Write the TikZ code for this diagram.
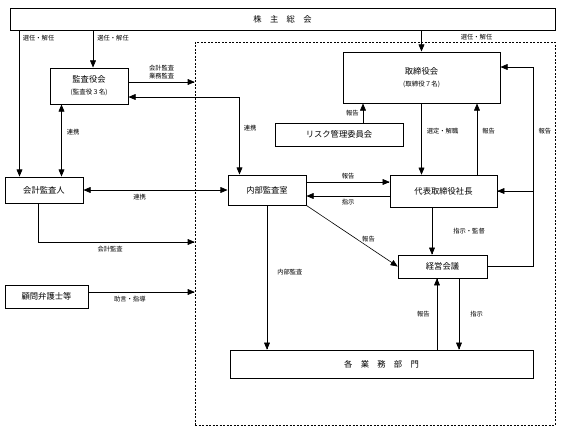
\documentclass[tikz,border=0pt]{standalone}
\usepackage{fontspec}
\setmainfont{Noto Sans CJK JP}
\usetikzlibrary{arrows,positioning}

\begin{document}
\begin{tikzpicture}[x=1pt,y=-1pt,>=triangle 45,line width=0.6pt,
  box/.style={draw,inner sep=1pt,align=center,font=\fontsize{8.3}{10}\selectfont},
  lbl/.style={inner sep=1pt,font=\fontsize{6.3}{7.5}\selectfont,align=center}]
\useasboundingbox (0,0) rectangle (570,431);
\node[draw,dashed,line width=0.5pt,dash pattern=on 2pt off 1.5pt,minimum width=360pt,minimum height=383pt] (group) at (375,233.5) {};
\node[box,line width=1pt,minimum width=545pt,minimum height=22pt] (gm) at (282.5,19) {株\hspace{1em}主\hspace{1em}総\hspace{1em}会};
\node[box,line width=1pt,minimum width=157pt,minimum height=51pt] (tori) at (421.5,77.5) {取締役会\\[2pt]{\fontsize{6.5}{7.5}\selectfont (取締役７名)}};
\node[box,line width=1pt,minimum width=78pt,minimum height=36pt] (kansa) at (89,86) {監査役会\\[2pt]{\fontsize{6.5}{7.5}\selectfont (監査役３名)}};
\node[box,minimum width=128pt,minimum height=23pt] (risk) at (339,134.5) {リスク管理委員会};
\node[box,line width=1pt,minimum width=78pt,minimum height=26pt] (kaikei) at (44,190) {会計監査人};
\node[box,line width=1pt,minimum width=78pt,minimum height=30pt] (naibu) at (267,190) {内部監査室};
\node[box,minimum width=107pt,minimum height=32pt] (shacho) at (443.5,191) {代表取締役社長};
\node[box,minimum width=89pt,minimum height=23pt] (keiei) at (442.5,266.5) {経営会議};
\node[box,minimum width=83pt,minimum height=23pt] (komon) at (46.5,296.5) {顧問弁護士等};
\node[box,minimum width=303pt,minimum height=28pt] (bumon) at (381.5,364) {各\hspace{1em}業\hspace{1em}務\hspace{1em}部\hspace{1em}門};

\draw[->] ([xshift=15pt]kaikei.north west |- gm.south) -- ([xshift=15pt]kaikei.north west) node[lbl,pos=.05,right=2pt]{選任・解任};
\draw[->] ([xshift=4pt]kansa.north |- gm.south) -- ([xshift=4pt]kansa.north) node[lbl,pos=.2,right=3pt]{選任・解任};
\draw[->] (tori.north |- gm.south) -- (tori.north) node[lbl,pos=.3,right=38pt]{選任・解任};
\draw[->] ([yshift=4pt]kansa.east) -- ([yshift=4pt]kansa.east -| group.west) node[lbl,midway,above=2pt]{会計監査\\業務監査};
\draw[<->] ([yshift=-11pt]kansa.east) -| ([xshift=12pt]naibu.north west) node[lbl,pos=.7,right=3pt]{連携};
\draw[<->] ([xshift=12pt]kansa.south west) -- ([xshift=12pt]kansa.south west |- kaikei.north) node[lbl,pos=.38,right=4pt]{連携};
\draw[<->] (kaikei.east) -- (naibu.west) node[lbl,pos=.39,below=3pt]{連携};
\draw[->] ([xshift=-6pt]kaikei.south) |- ([yshift=-8.5pt]group.west) node[lbl,pos=.73,below=3pt]{会計監査};
\draw[->] ([yshift=4.5pt]komon.east) -- ([yshift=4.5pt]komon.east -| group.west) node[lbl,pos=.39,below=3pt]{助言・指導};
\draw[->] ([xshift=24pt]risk.north) -- ([xshift=24pt]risk.north |- tori.south) node[lbl,midway,left=3pt]{報告};
\draw[->] (tori.south) -- (tori.south |- shacho.north) node[lbl,pos=.39,right=4pt]{選定・解職};
\draw[->] ([xshift=33.5pt]shacho.north) -- ([xshift=33.5pt]shacho.north |- tori.south) node[lbl,pos=.61,right=4pt]{報告};
\draw[->] (keiei.east) -- (keiei.east -| bumon.east) |- ([yshift=10.5pt]tori.east) node[lbl,pos=.34,right=4pt]{報告};
\draw[->] (shacho.east -| bumon.east) -- (shacho.east);
\draw[->] ([yshift=8pt]naibu.east) -- ([yshift=8pt]naibu.east -| shacho.west) node[lbl,midway,above=2pt]{報告};
\draw[->] ([yshift=-6pt]naibu.east -| shacho.west) -- ([yshift=-6pt]naibu.east) node[lbl,midway,below=2pt]{指示};
\draw[->] (naibu.south east) -- (keiei.west) node[lbl,pos=.68,above=4pt]{報告};
\draw[->] ([xshift=-11.5pt]shacho.south) -- ([xshift=-11.5pt]shacho.south |- keiei.north) node[lbl,midway,right=20pt]{指示・監督};
\draw[->] (naibu.south) -- (naibu.south |- bumon.north) node[lbl,pos=.46,right=9pt]{内部監査};
\draw[->] ([xshift=-5.5pt]keiei.south |- bumon.north) -- ([xshift=-5.5pt]keiei.south) node[lbl,midway,left=6pt]{報告};
\draw[->] ([xshift=16.5pt]keiei.south) -- ([xshift=16.5pt]keiei.south |- bumon.north) node[lbl,midway,right=10pt]{指示};
\end{tikzpicture}
\end{document}
